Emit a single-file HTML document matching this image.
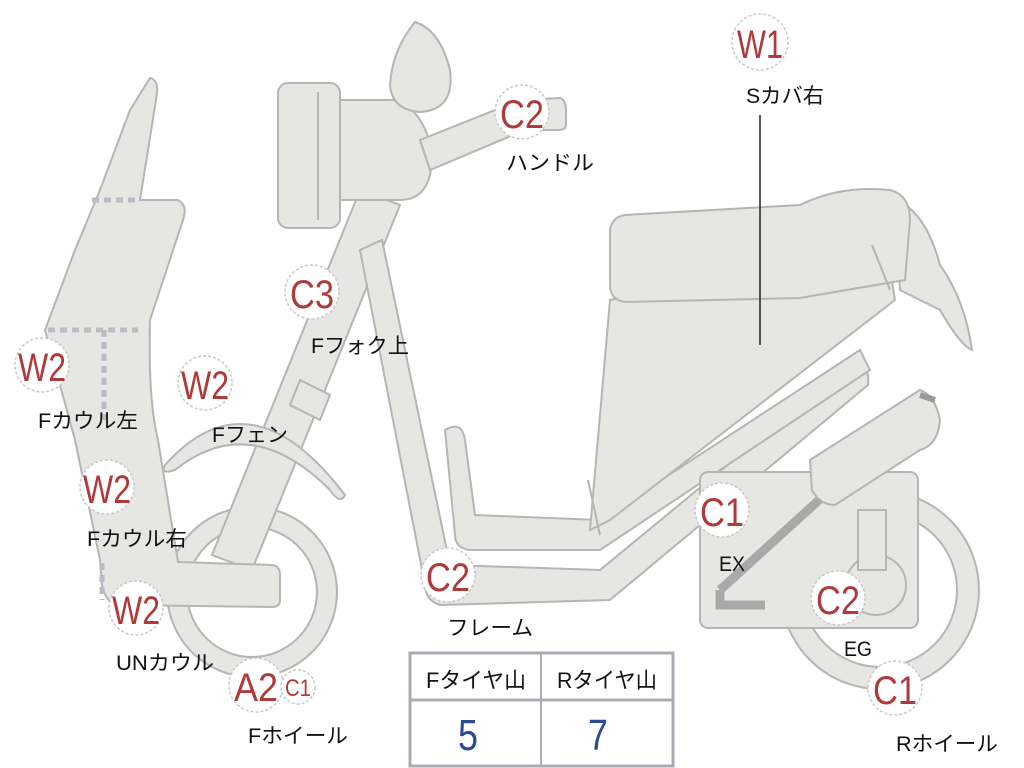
<!DOCTYPE html>
<html><head><meta charset="utf-8"><style>
html,body{margin:0;padding:0;background:#fff;}
svg{display:block;}
.p{fill:#e6e6e3;stroke:#b5b5b5;stroke-width:2;}
.c{fill:#fff;stroke:#c8c8c8;stroke-width:1.5;stroke-dasharray:3 2;}
.r{font-family:"Liberation Sans",sans-serif;fill:#b03a3a;font-size:40px;text-anchor:middle;}
.s{font-family:"Liberation Sans",sans-serif;fill:#b03a3a;font-size:24px;text-anchor:middle;}
.l{font-family:"Liberation Sans","Noto Sans CJK JP",sans-serif;fill:#111;font-size:21px;text-anchor:middle;}
.d{stroke:#b8bcc4;stroke-width:5;stroke-dasharray:7 5;fill:none;}
</style></head><body>
<svg width="1024" height="768" viewBox="0 0 1024 768">
<!-- rear wheel -->
<circle cx="880" cy="590" r="88" fill="none" stroke="#b5b5b5" stroke-width="24"/>
<circle cx="880" cy="590" r="88" fill="none" stroke="#e6e6e3" stroke-width="20"/>
<!-- front wheel -->
<circle cx="252" cy="592" r="75" fill="none" stroke="#b5b5b5" stroke-width="22"/>
<circle cx="252" cy="592" r="75" fill="none" stroke="#e6e6e3" stroke-width="18"/>
<!-- fork -->
<path class="p" d="M360 190 L400 205 L252 570 L212 555 Z"/>
<path class="p" d="M300 380 L330 395 L320 420 L290 405 Z"/>
<!-- front fender -->
<path class="p" d="M165 465 Q250 370 345 495 Q340 505 330 490 Q250 410 175 470 Q160 475 165 465 Z"/>
<!-- cowl -->
<path class="p" d="M130 110 L150 78 Q160 80 156 100 L140 200 L178 200 Q188 205 183 220 L150 320 Q148 400 158 440 L178 562 L272 565 Q280 566 280 575 L280 600 Q280 607 272 607 L115 605 Q105 600 102 585 L100 560 L75 440 L45 330 L75 250 L100 190 Z"/>
<path class="d" d="M92 200 L140 200"/>
<path class="d" d="M48 330 L138 330 M104 330 L104 420"/>
<path class="d" d="M102 563 L102 600"/>
<!-- headlight -->
<path class="p" d="M338 100 L400 100 Q430 120 432 160 Q430 200 400 200 L338 200 Z"/>
<rect class="p" x="278" y="83" width="62" height="145" rx="10"/>
<line x1="318" y1="92" x2="318" y2="220" stroke="#b5b5b5" stroke-width="2"/>
<!-- windscreen -->
<path class="p" d="M415 22 Q440 30 450 70 Q455 110 420 112 Q392 110 390 85 Q392 50 415 22 Z"/>
<!-- handlebar -->
<path class="p" d="M420 140 L520 100 L560 98 Q566 100 566 110 L566 125 Q566 130 558 130 L525 130 L430 170 Z"/>
<!-- frame -->
<path class="p" d="M360 250 L382 240 L450 565 L600 570 L855 360 Q870 365 868 385 L610 600 L440 605 Q425 600 425 585 Z"/>
<!-- floor inner -->
<path class="p" d="M445 430 Q462 420 465 440 L475 515 L600 520 L860 350 L870 370 L600 550 L470 550 Q455 548 455 535 Z"/>
<!-- body under seat -->
<path class="p" d="M590 530 L610 300 L885 240 L895 300 L610 520 Z"/>
<line x1="588" y1="480" x2="600" y2="535" stroke="#b5b5b5" stroke-width="2"/>
<!-- tail -->
<path class="p" d="M895 200 Q925 210 940 265 Q965 300 972 350 Q960 345 940 310 L900 290 Z"/>
<!-- seat -->
<path class="p" d="M625 215 L800 205 Q840 185 890 190 Q910 195 910 220 L905 280 L800 298 L625 302 Q610 300 610 285 L610 230 Q612 217 625 215 Z"/>
<line x1="872" y1="245" x2="890" y2="290" stroke="#b5b5b5" stroke-width="2"/>
<!-- engine -->
<rect class="p" x="700" y="472" width="218" height="156" rx="8"/>
<path d="M720 590 L720 605 L765 605 M720 590 L830 490" stroke="#a9a9a9" stroke-width="9" fill="none"/>
<circle class="p" cx="876" cy="585" r="30"/>
<!-- shock / rear -->
<path class="p" d="M810 460 L920 390 Q935 395 940 420 Q938 445 920 450 L835 505 Q820 505 812 490 Z"/>
<path d="M920 395 L935 400" stroke="#999" stroke-width="6"/>
<rect class="p" x="858" y="510" width="28" height="60"/>
<!-- W1 line -->
<line x1="760" y1="115" x2="760" y2="345" stroke="#222" stroke-width="1.5"/>
<!-- circles -->
<g>
<circle class="c" cx="760" cy="42" r="28"/><text class="r" x="760" y="58" textLength="46" lengthAdjust="spacingAndGlyphs">W1</text>
<circle class="c" cx="522" cy="112" r="27"/><text class="r" x="522" y="128" textLength="44" lengthAdjust="spacingAndGlyphs">C2</text>
<circle class="c" cx="312" cy="292" r="27"/><text class="r" x="312" y="308" textLength="44" lengthAdjust="spacingAndGlyphs">C3</text>
<circle class="c" cx="42" cy="365" r="27"/><text class="r" x="42" y="381" textLength="48" lengthAdjust="spacingAndGlyphs">W2</text>
<circle class="c" cx="205" cy="383" r="27"/><text class="r" x="205" y="399" textLength="48" lengthAdjust="spacingAndGlyphs">W2</text>
<circle class="c" cx="107" cy="487" r="27"/><text class="r" x="107" y="503" textLength="48" lengthAdjust="spacingAndGlyphs">W2</text>
<circle class="c" cx="136" cy="608" r="27"/><text class="r" x="136" y="624" textLength="48" lengthAdjust="spacingAndGlyphs">W2</text>
<circle class="c" cx="256" cy="685" r="27"/><text class="r" x="256" y="701" textLength="44" lengthAdjust="spacingAndGlyphs">A2</text>
<circle class="c" cx="298" cy="687" r="17"/><text class="s" x="298" y="696" textLength="26" lengthAdjust="spacingAndGlyphs">C1</text>
<circle class="c" cx="448" cy="575" r="27"/><text class="r" x="448" y="591" textLength="44" lengthAdjust="spacingAndGlyphs">C2</text>
<circle class="c" cx="722" cy="510" r="27"/><text class="r" x="722" y="526" textLength="44" lengthAdjust="spacingAndGlyphs">C1</text>
<circle class="c" cx="838" cy="598" r="27"/><text class="r" x="838" y="614" textLength="44" lengthAdjust="spacingAndGlyphs">C2</text>
<circle class="c" cx="895" cy="688" r="27"/><text class="r" x="895" y="704" textLength="44" lengthAdjust="spacingAndGlyphs">C1</text>
</g>
<!-- labels -->
<text class="l" x="785" y="103" textLength="78" lengthAdjust="spacingAndGlyphs">Sカバ右</text>
<text class="l" x="550" y="170" textLength="88" lengthAdjust="spacingAndGlyphs">ハンドル</text>
<text class="l" x="360" y="353" textLength="98" lengthAdjust="spacingAndGlyphs">Fフォク上</text>
<text class="l" x="88" y="428" textLength="100" lengthAdjust="spacingAndGlyphs">Fカウル左</text>
<text class="l" x="250" y="442" textLength="76" lengthAdjust="spacingAndGlyphs">Fフェン</text>
<text class="l" x="137" y="546" textLength="100" lengthAdjust="spacingAndGlyphs">Fカウル右</text>
<text class="l" x="165" y="670" textLength="98" lengthAdjust="spacingAndGlyphs">UNカウル</text>
<text class="l" x="298" y="743" textLength="100" lengthAdjust="spacingAndGlyphs">Fホイール</text>
<text class="l" x="490" y="635" textLength="86" lengthAdjust="spacingAndGlyphs">フレーム</text>
<text class="l" x="732" y="571" textLength="26" lengthAdjust="spacingAndGlyphs">EX</text>
<text class="l" x="858" y="656" textLength="28" lengthAdjust="spacingAndGlyphs">EG</text>
<text class="l" x="947" y="751" textLength="102" lengthAdjust="spacingAndGlyphs">Rホイール</text>
<!-- table -->
<rect x="410" y="653" width="263" height="113" fill="#fff" stroke="#a9acb3" stroke-width="3"/>
<line x1="410" y1="700" x2="673" y2="700" stroke="#a9acb3" stroke-width="3"/>
<line x1="541" y1="653" x2="541" y2="766" stroke="#a9acb3" stroke-width="2"/>
<text class="l" x="476" y="688" style="font-size:22px" textLength="100" lengthAdjust="spacingAndGlyphs">Fタイヤ山</text>
<text class="l" x="607" y="688" style="font-size:22px" textLength="100" lengthAdjust="spacingAndGlyphs">Rタイヤ山</text>
<text x="468" y="750" font-family="Liberation Sans" font-size="44" fill="#2c4a8c" text-anchor="middle" textLength="20" lengthAdjust="spacingAndGlyphs">5</text>
<text x="598" y="750" font-family="Liberation Sans" font-size="44" fill="#2c4a8c" text-anchor="middle" textLength="20" lengthAdjust="spacingAndGlyphs">7</text>
</svg>
</body></html>
